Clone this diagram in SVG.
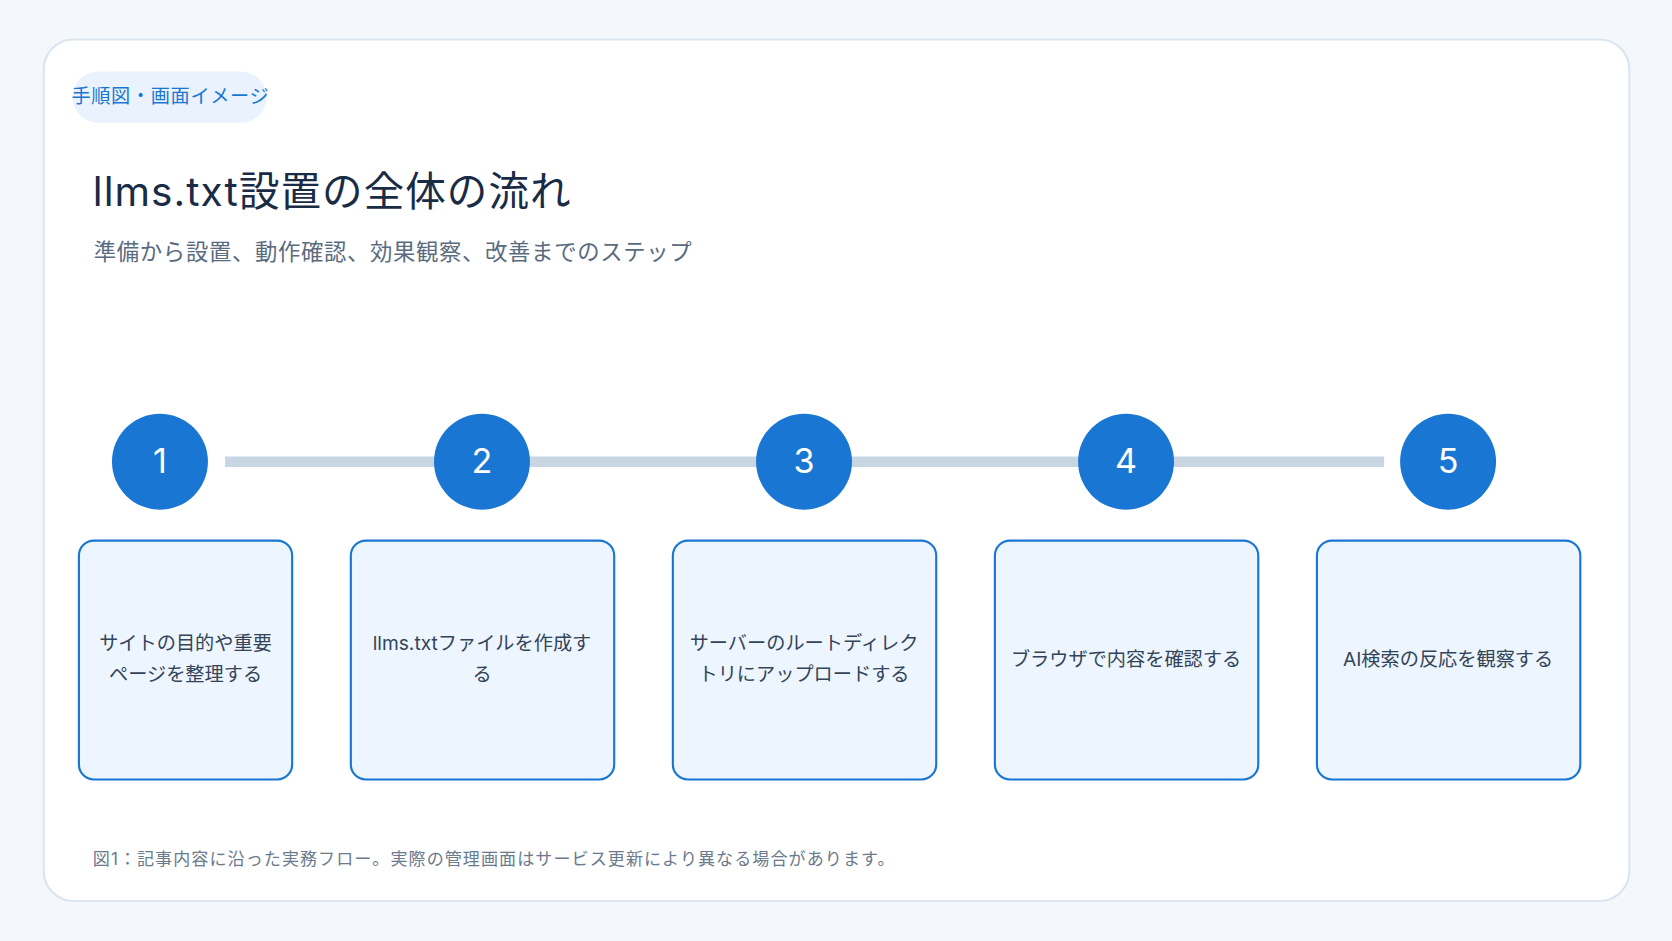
<svg xmlns="http://www.w3.org/2000/svg" width="1672" height="941" viewBox="0 0 1672 941">
<style>
text{font-family:Inter,"Noto Sans CJK JP",sans-serif}
.box{fill:#edf5fe;stroke:#1976d2;stroke-width:2}
.num{fill:#fff;font-size:32px;text-anchor:middle}
.lbl{fill:#33445a;font-size:18px;text-anchor:middle}
.cir{fill:#1976d2}
</style>
<rect width="1672" height="941" fill="#f4f8fc"/>
<g transform="scale(1.06633)">
<rect x="41" y="37" width="1487" height="808" rx="28" fill="#fff" stroke="#dbe5ef" stroke-width="2"/>
<g id="badge"><rect x="68" y="67" width="182" height="48" rx="24" fill="#eaf3fd"/><text x="67" y="97" font-size="18" fill="#1976d2" letter-spacing="0.6">手順図・画面イメージ</text></g>
<text x="87" y="193" font-size="38" fill="#1a2b45" letter-spacing="1">llms.txt設置の全体の流れ</text>
<text x="88" y="244" font-size="21" fill="#5a6b80" letter-spacing="0.6">準備から設置、動作確認、効果観察、改善までのステップ</text>
<g id="connectors"><line x1="211" y1="433" x2="1298" y2="433" stroke="#c8d6e4" stroke-width="10"/></g>
<g id="step1"><circle class="cir" cx="150" cy="433" r="45"/><text class="num" x="150" y="444">1</text><rect class="box" x="74" y="507" width="200" height="224" rx="14"/><text class="lbl" x="174" y="610">サイトの目的や重要</text><text class="lbl" x="174" y="639">ページを整理する</text></g>
<g id="step2"><circle class="cir" cx="452" cy="433" r="45"/><text class="num" x="452" y="444">2</text><rect class="box" x="329" y="507" width="247" height="224" rx="14"/><text class="lbl" x="452" y="610">llms.txtファイルを作成す</text><text class="lbl" x="452" y="639">る</text></g>
<g id="step3"><circle class="cir" cx="754" cy="433" r="45"/><text class="num" x="754" y="444">3</text><rect class="box" x="631" y="507" width="247" height="224" rx="14"/><text class="lbl" x="754" y="610">サーバーのルートディレク</text><text class="lbl" x="754" y="639">トリにアップロードする</text></g>
<g id="step4"><circle class="cir" cx="1056" cy="433" r="45"/><text class="num" x="1056" y="444">4</text><rect class="box" x="933" y="507" width="247" height="224" rx="14"/><text class="lbl" x="1056" y="625">ブラウザで内容を確認する</text></g>
<g id="step5"><circle class="cir" cx="1358" cy="433" r="45"/><text class="num" x="1358" y="444">5</text><rect class="box" x="1235" y="507" width="247" height="224" rx="14"/><text class="lbl" x="1358" y="625">AI検索の反応を観察する</text></g>
<text x="87" y="811" font-size="16" fill="#6b7a8c" letter-spacing="1">図1：記事内容に沿った実務フロー。実際の管理画面はサービス更新により異なる場合があります。</text>
</g>
</svg>
